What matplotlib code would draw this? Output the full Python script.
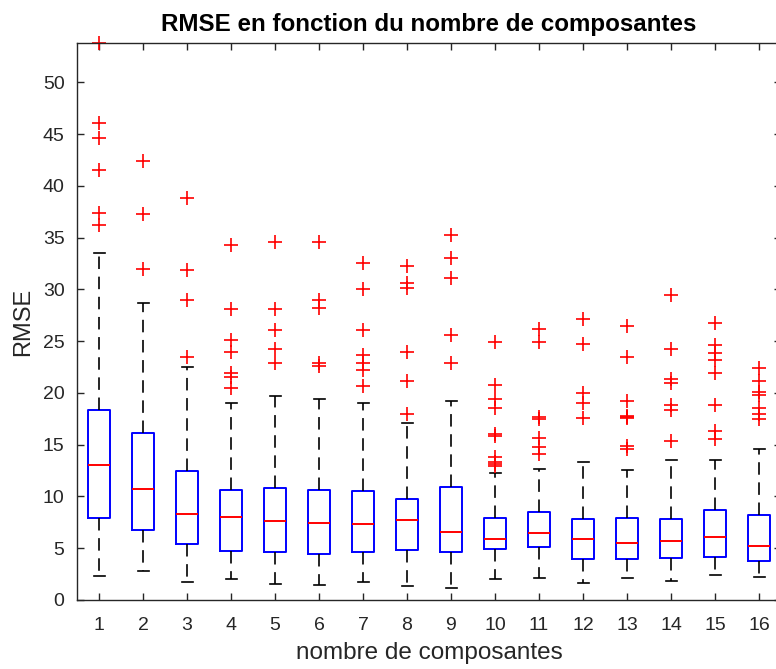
import matplotlib
matplotlib.use("Agg")
import matplotlib.pyplot as plt

plt.rcParams['font.family'] = ['Liberation Sans', 'DejaVu Sans']
plt.rcParams['lines.scale_dashes'] = False

positions = list(range(1, 17))
tick_labels = [str(i) for i in positions]

q1 = [7.88, 6.78, 5.43, 4.73, 4.60, 4.40, 4.60, 4.82, 4.60, 4.89, 5.08, 3.95, 3.95, 4.05, 4.11, 3.76]
medians = [13.05, 10.70, 8.26, 7.97, 7.62, 7.46, 7.36, 7.74, 6.59, 5.88, 6.43, 5.85, 5.50, 5.66, 6.10, 5.20]
q3 = [18.35, 16.13, 12.44, 10.58, 10.77, 10.64, 10.48, 9.74, 10.96, 7.94, 8.51, 7.81, 7.94, 7.81, 8.71, 8.20]
whisker_low = [2.28, 2.83, 1.77, 2.03, 1.54, 1.45, 1.70, 1.32, 1.13, 1.99, 2.09, 1.67, 2.15, 1.86, 2.38, 2.22]
whisker_high = [33.5, 28.7, 22.5, 19.0, 19.7, 19.38, 19.0, 17.07, 19.22, 12.25, 12.7, 13.37, 12.54, 13.5, 13.5, 14.63]

outliers = [
    [53.8, 46.06, 44.6, 41.5, 37.4, 36.26],
    [42.4, 37.3, 32.0],
    [38.8, 31.85, 28.96, 23.5],
    [34.3, 28.06, 25.07, 23.98, 21.9, 21.57, 20.5],
    [34.6, 28.06, 26.04, 24.2, 22.85],
    [34.6, 28.93, 28.16, 22.9, 22.6],
    [32.56, 30.06, 26.04, 23.7, 22.9, 22.18, 20.67],
    [32.24, 30.64, 30.15, 23.98, 21.15, 17.94],
    [35.23, 33.05, 31.12, 25.55, 22.92],
    [24.95, 20.73, 19.45, 18.5, 16.0, 15.8, 13.8, 13.37, 13.1, 12.95],
    [26.13, 24.95, 17.7, 17.5, 15.6, 14.82, 14.14],
    [27.1, 24.75, 20.03, 19.0, 17.55],
    [26.45, 23.5, 19.22, 17.8, 17.7, 17.6, 14.88, 14.63],
    [29.44, 24.27, 21.31, 20.93, 18.84, 18.32, 15.36],
    [26.78, 24.59, 23.88, 23.18, 21.96, 18.84, 16.33, 15.59],
    [22.44, 21.15, 20.09, 19.77, 18.52, 18.0, 17.45],
]

title = "RMSE en fonction du nombre de composantes"
xlabel = "nombre de composantes"
ylabel = "RMSE"
yticks = list(range(0, 51, 5))

stats = []
for i in range(len(positions)):
    stats.append(dict(med=medians[i], q1=q1[i], q3=q3[i],
                      whislo=whisker_low[i], whishi=whisker_high[i],
                      fliers=outliers[i], label=tick_labels[i]))

fig = plt.figure(figsize=(7.76, 6.69), dpi=100)
ax = fig.add_axes([77 / 776, 69 / 669, 704 / 776, 557 / 669])

txt = (0.15, 0.15, 0.15)
bp = ax.bxp(stats, positions=positions, widths=0.52, capwidths=0.25,
            showfliers=True,
            boxprops=dict(color='#0000ff', linewidth=1.4),
            medianprops=dict(color='#ff0000', linewidth=1.4),
            whiskerprops=dict(color='black', linewidth=1.2, linestyle=(0, (9, 5.5))),
            capprops=dict(color='black', linewidth=1.2),
            flierprops=dict(marker='+', markeredgecolor='#ff0000', markersize=10,
                            markeredgewidth=1.2, linestyle='none'))
for f in bp['fliers']:
    f.set_clip_on(False)

ymax = max(max(o) for o in outliers)
ax.set_xlim(0.5, len(positions) + 0.5)
ax.set_ylim(0, ymax)
ax.set_yticks(yticks)
ax.set_xticks(positions)
ax.set_xticklabels(tick_labels)

ax.tick_params(direction='in', length=5, width=1.0, color=txt, labelcolor=txt,
               labelsize=14, top=True, right=True)
ax.tick_params(axis='y', pad=9)
ax.tick_params(axis='x', pad=12)
for s in ax.spines.values():
    s.set_color(txt)
    s.set_linewidth(1.0)

ax.set_title(title, fontsize=17.4, fontweight='bold', color='black', pad=9)
ax.set_xlabel(xlabel, fontsize=17.5, color=txt, labelpad=6)
ax.set_ylabel(ylabel, fontsize=17, color=txt, labelpad=6)

fig.savefig("out.png", dpi=100)
